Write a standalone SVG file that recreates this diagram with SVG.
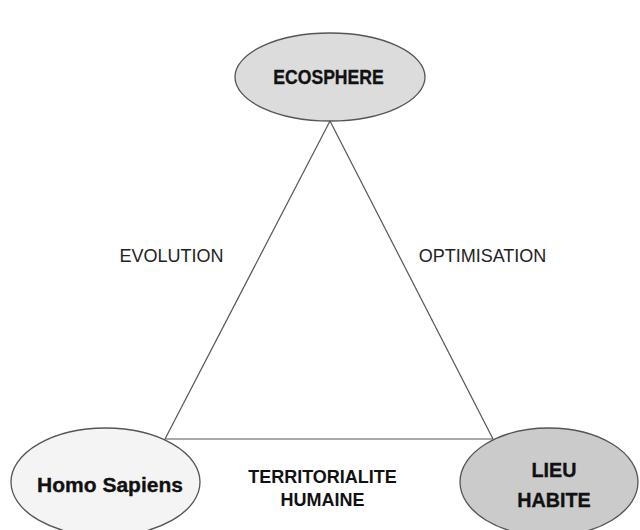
<svg xmlns="http://www.w3.org/2000/svg" width="640" height="530" viewBox="0 0 640 530">
  <style>
    .node { stroke: #555; stroke-width: 1.3; }
    .edge { stroke: #555; stroke-width: 1.2; fill: none; }
    .nlabel { font-family: "Liberation Sans", Arial, sans-serif; font-weight: bold; fill: #111; stroke: #111; stroke-width: 0.35; text-anchor: middle; }
    .blabel { font-family: "Liberation Sans", Arial, sans-serif; font-weight: bold; fill: #111; text-anchor: middle; font-size: 18px; }
    .elabel { font-family: "Liberation Sans", Arial, sans-serif; fill: #222; text-anchor: middle; font-size: 18px; }
  </style>
  <rect width="640" height="530" fill="#fff"/>

  <!-- triangle linking the three poles -->
  <g id="connectors">
    <line class="edge" x1="330" y1="121" x2="165" y2="439"/>
    <line class="edge" x1="330" y1="121" x2="493" y2="439"/>
    <line class="edge" x1="165" y1="439" x2="493" y2="439"/>
    <text class="elabel" x="171.5" y="262">EVOLUTION</text>
    <text class="elabel" x="482.5" y="262">OPTIMISATION</text>
    <text class="blabel" x="322.5" y="483">TERRITORIALITE</text>
    <text class="blabel" x="322.5" y="506">HUMAINE</text>
  </g>

  <g id="ecosphere">
    <ellipse class="node" cx="330" cy="77" rx="95" ry="44" fill="#dcdcdc"/>
    <text class="nlabel" transform="translate(328.5,83.5) scale(0.88,1)" font-size="20">ECOSPHERE</text>
  </g>

  <g id="homo-sapiens">
    <ellipse class="node" cx="105.5" cy="482" rx="94.5" ry="54" fill="#f4f4f4"/>
    <text class="nlabel" x="110" y="492" font-size="21">Homo Sapiens</text>
  </g>

  <g id="lieu-habite">
    <ellipse class="node" cx="549" cy="482" rx="89" ry="54" fill="#cbcbcb"/>
    <text class="nlabel" transform="translate(554,477) scale(0.94,1)" font-size="21">LIEU</text>
    <text class="nlabel" transform="translate(554,507) scale(0.94,1)" font-size="21">HABITE</text>
  </g>
</svg>
